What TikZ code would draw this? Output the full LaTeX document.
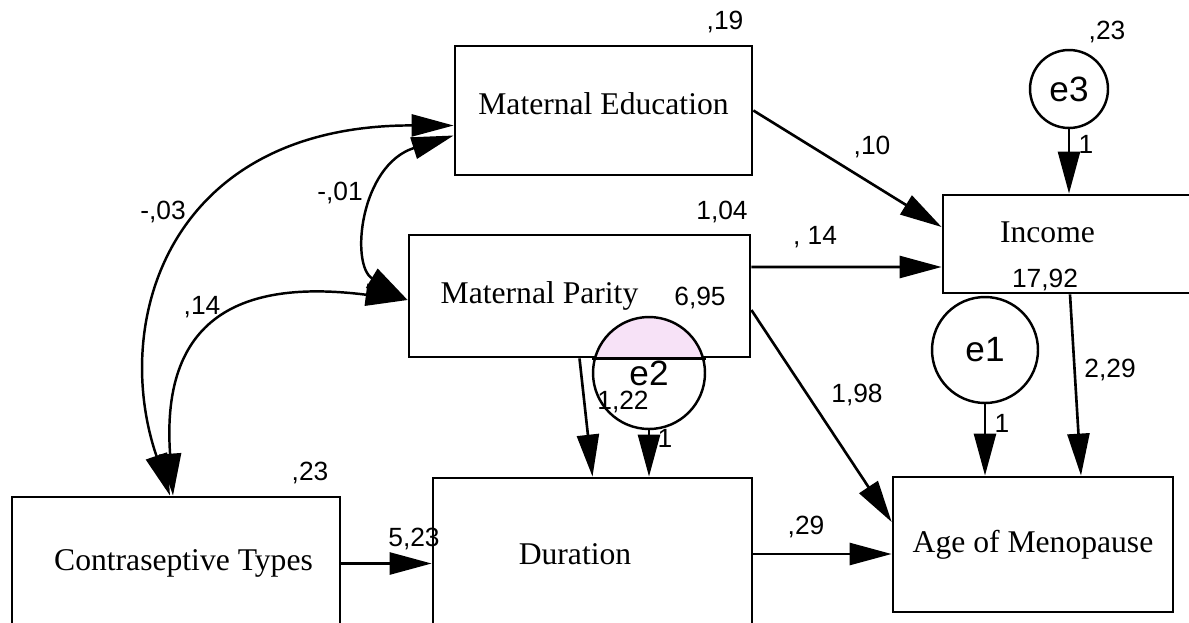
\documentclass[tikz,border=0pt]{standalone}
\usepackage{fontspec}
\setmainfont{Liberation Serif}
\newfontfamily\numfont{Liberation Sans}
\usetikzlibrary{arrows.meta}

\begin{document}
\begin{tikzpicture}[x=0.02cm, y=-0.02cm,
    box/.style={draw, line width=1.6pt, inner sep=0pt, font=\fontsize{18}{20}\selectfont},
    err/.style={draw, circle, line width=1.4pt, fill=white, inner sep=0pt, font=\numfont\fontsize{20}{20}\selectfont},
    num/.style={inner sep=0pt, font=\numfont\fontsize{15}{15}\selectfont},
    reg/.style={-{Triangle[length=0.84cm, width=0.44cm]}, line width=1.5pt},
    cov/.style={{Triangle[length=0.84cm, width=0.44cm]}-{Triangle[length=0.84cm, width=0.44cm]}, line width=1.4pt}]
    \definecolor{capfill}{RGB}{247,226,247}
    \useasboundingbox (0,0) rectangle (1189,622);

    % Observed variables
    \node[box, minimum width=5.94cm, minimum height=2.58cm] (edu) at (603.5,110.5) {\raisebox{0.28cm}{Maternal Education}};
    \node[box, minimum width=6.82cm, minimum height=2.44cm] (par) at (579.5,296) {Maternal Parity\hspace*{1.6cm}};
    \node[box, minimum width=4.98cm, minimum height=1.96cm] (inc) at (1067.5,244) {\raisebox{0.48cm}{Income}\hspace*{0.8cm}};
    \node[box, minimum width=5.6cm, minimum height=2.7cm] (age) at (1033,544.5) {Age of Menopause};
    \node[box, minimum width=6.38cm, minimum height=3.04cm] (dur) at (592.5,554) {Duration\hspace*{0.7cm}};
    \node[box, minimum width=6.56cm, minimum height=2.66cm] (con) at (176,563.5) {\hspace*{0.3cm}Contraseptive Types};

    % Error terms
    \node[err, minimum size=2.24cm, path picture={
        \fill[capfill] (path picture bounding box.north west) rectangle (path picture bounding box.east |- par.south);}]
        (e2) at (649,373) {e2};
    \draw[line width=1.6pt] (e2.west |- par.south) -- (e2.east |- par.south);
    \node[err, minimum size=2.12cm] (e1) at (985,350) {e1};
    \node[err, minimum size=1.56cm] (e3) at (1069,89) {e3};

    % Regression paths
    \draw[reg] (edu.east) -- ([yshift=0.34cm]inc.west);
    \draw[reg] ([yshift=0.58cm]par.east) -- ([yshift=-0.46cm]inc.west);
    \draw[reg] ([yshift=-0.28cm]par.east) -- ([yshift=0.45cm]age.west);
    \draw[reg] (par.south) -- (dur.north);
    \draw[reg] (e2.south) -- (e2.south |- dur.north);
    \draw[reg] (e1.south) -- (e1.south |- age.north);
    \draw[reg] ([xshift=0.05cm]inc.south) -- ([xshift=0.96cm]age.north);
    \draw[reg] (e3.south) -- (e3.south |- inc.north);
    \draw[reg] (con.east) -- (con.east -| dur.west);
    \draw[reg] (dur.east) -- (dur.east -| age.west);

    % Covariances
    \draw[cov] ([xshift=-0.12cm]con.north) .. controls (110,320) and (170,125) .. ([yshift=-0.3cm]edu.west);
    \draw[cov] ([yshift=-0.5cm]edu.west) .. controls (360,165) and (350,265) .. ([yshift=-0.08cm]par.west);
    \draw[cov] ([xshift=-0.06cm]con.north) .. controls (160,310) and (250,280) .. ([yshift=-0.08cm]par.west);

    % Estimates
    \node[num] (vedu) at (725,22) {,19};
    \node[num] (vpar) at (722,212) {1,04};
    \node[num] (mpar) at (700,298) {6,95};
    \node[num] (vcon) at (310,473) {,23};
    \node[num] (ve3) at (1107,32) {,23};
    \node[num] (minc) at (1045,280) {17,92};
    \node[num] (mdur) at (414,539) {5,23};
    \node[num] (ve2) at (623,402) {1,22};
    \node[num] (w1) at (872,147) {,10};
    \node[num] (w2) at (815,237) {, 14};
    \node[num] (w3) at (857,395) {1,98};
    \node[num] (w4) at (1110,370) {2,29};
    \node[num] (w5) at (806,527) {,29};
    \node[num] (fe3) at (1086,144) {1};
    \node[num] (fe2) at (665,438) {1};
    \node[num] (fe1) at (1002,423) {1};
    \node[num] (c1) at (163,212) {-,03};
    \node[num] (c2) at (340,193) {-,01};
    \node[num] (c3) at (202,307) {,14};
\end{tikzpicture}
\end{document}
